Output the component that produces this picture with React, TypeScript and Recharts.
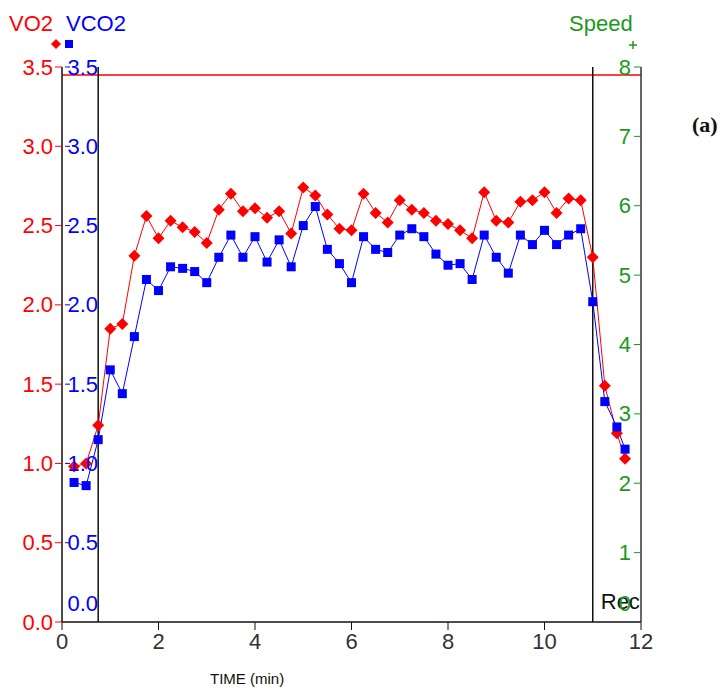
import React from 'react';
import { LineChart, Line, XAxis, YAxis, ReferenceLine } from 'recharts';

const times = [0.25, 0.5, 0.75, 1, 1.25, 1.5, 1.75, 2, 2.25, 2.5, 2.75, 3, 3.25, 3.5, 3.75, 4, 4.25, 4.5, 4.75, 5, 5.25, 5.5, 5.75, 6, 6.25, 6.5, 6.75, 7, 7.25, 7.5, 7.75, 8, 8.25, 8.5, 8.75, 9, 9.25, 9.5, 9.75, 10, 10.25, 10.5, 10.75, 11, 11.25, 11.5, 11.67];
const vo2 = [0.98, 1.0, 1.24, 1.85, 1.88, 2.31, 2.56, 2.42, 2.53, 2.49, 2.46, 2.39, 2.6, 2.7, 2.59, 2.61, 2.55, 2.59, 2.45, 2.74, 2.69, 2.57, 2.48, 2.47, 2.7, 2.58, 2.52, 2.66, 2.6, 2.58, 2.53, 2.51, 2.47, 2.42, 2.71, 2.53, 2.52, 2.65, 2.66, 2.71, 2.58, 2.67, 2.66, 2.3, 1.49, 1.19, 1.03];
const vco2 = [0.88, 0.86, 1.15, 1.59, 1.44, 1.8, 2.16, 2.09, 2.24, 2.23, 2.21, 2.14, 2.3, 2.44, 2.3, 2.43, 2.27, 2.41, 2.24, 2.5, 2.62, 2.35, 2.26, 2.14, 2.43, 2.35, 2.33, 2.44, 2.48, 2.43, 2.32, 2.25, 2.26, 2.16, 2.44, 2.3, 2.2, 2.44, 2.38, 2.47, 2.38, 2.44, 2.48, 2.02, 1.39, 1.23, 1.09];

const leftTicks = [0, 0.5, 1, 1.5, 2, 2.5, 3, 3.5];
const rightTicks = [0, 1, 2, 3, 4, 5, 6, 7, 8];
const xTicks = [0, 2, 4, 6, 8, 10, 12];
const vo2Max = 3.45;
const phaseStart = 0.75;
const recStart = 11;

const data = times.map((t, i) => ({ t, vo2: vo2[i], vco2: vco2[i] }));

const RED = '#ff0000';
const BLUE = '#0000ff';
const GREEN = '#1b9a1b';
const FONT = '"Liberation Sans", Arial, sans-serif';
const PLOT_LEFT = 62;
const PLOT_RIGHT = 641;

const LeftTick = (props: any) => {
  const { y, payload } = props;
  const v = payload.value as number;
  const label = v.toFixed(1);
  const isZero = v === 0;
  return (
    <g>
      <text x={PLOT_LEFT - 9} y={y} textAnchor="end" dominantBaseline="central" fill={RED} fontSize={22} fontFamily={FONT}>{label}</text>
      <line x1={PLOT_LEFT - 7} x2={PLOT_LEFT} y1={y} y2={y} stroke={RED} strokeWidth={1} />
      {!isZero && <line x1={PLOT_LEFT + 3} x2={PLOT_LEFT + 8} y1={y} y2={y} stroke={BLUE} strokeWidth={1} />}
      <text x={PLOT_LEFT + 36} y={isZero ? y - 19 : y} textAnchor="end" dominantBaseline="central" fill={BLUE} fontSize={22} fontFamily={FONT}>{label}</text>
    </g>
  );
};

const RightTick = (props: any) => {
  const { y, payload } = props;
  const v = payload.value as number;
  const isZero = v === 0;
  return (
    <g>
      {!isZero && <line x1={PLOT_RIGHT - 7} x2={PLOT_RIGHT} y1={y} y2={y} stroke={GREEN} strokeWidth={1} />}
      <text x={PLOT_RIGHT - 10} y={isZero ? y - 19 : y} textAnchor="end" dominantBaseline="central" fill={GREEN} fontSize={22} fontFamily={FONT}>{String(v)}</text>
    </g>
  );
};

const Diamond = (props: any) => {
  const { cx, cy } = props;
  if (cx == null || cy == null) return null;
  return <polygon points={`${cx},${cy - 6} ${cx + 6},${cy} ${cx},${cy + 6} ${cx - 6},${cy}`} fill={RED} />;
};

const Square = (props: any) => {
  const { cx, cy } = props;
  if (cx == null || cy == null) return null;
  return <rect x={cx - 4.5} y={cy - 4.5} width={9} height={9} fill={BLUE} />;
};

const RecLabel = (props: any) => {
  const vb = props.viewBox || {};
  return (
    <text x={vb.x + 8} y={vb.y + vb.height - 21} dominantBaseline="central" fill="#111" fontSize={22} fontFamily={FONT}>Rec</text>
  );
};

export default function App() {
  return (
    <div style={{ position: 'relative', width: 725, height: 695, background: '#fff' }}>
      <style>{'body{margin:0;}'}</style>
      <LineChart width={725} height={695} data={data} margin={{ top: 67, right: 0, bottom: 0, left: 0 }}>
        <XAxis
          dataKey="t"
          type="number"
          domain={[0, 12]}
          ticks={xTicks}
          tickSize={8}
          tickMargin={3}
          height={73}
          stroke="#111"
          tick={{ fill: '#333', fontSize: 22, fontFamily: FONT }}
          axisLine={{ stroke: '#111', strokeWidth: 1.5 }}
        />
        <YAxis
          yAxisId="left"
          width={62}
          type="number"
          domain={[0, 3.5]}
          ticks={leftTicks}
          tickLine={false}
          tick={<LeftTick />}
          axisLine={{ stroke: '#111', strokeWidth: 1.5 }}
        />
        <YAxis
          yAxisId="right"
          orientation="right"
          width={84}
          type="number"
          domain={[0, 8]}
          allowDataOverflow
          ticks={rightTicks}
          interval={0}
          tickLine={false}
          tick={<RightTick />}
          axisLine={{ stroke: '#333', strokeWidth: 1.5 }}
        />
        <ReferenceLine yAxisId="left" y={vo2Max} stroke={RED} strokeWidth={1.5} />
        <ReferenceLine yAxisId="left" x={phaseStart} stroke="#111" strokeWidth={1.5} />
        <ReferenceLine yAxisId="left" x={recStart} stroke="#111" strokeWidth={1.5} label={<RecLabel />} />
        <Line yAxisId="left" dataKey="vo2" stroke={RED} strokeWidth={1} dot={<Diamond />} isAnimationActive={false} />
        <Line yAxisId="left" dataKey="vco2" stroke={BLUE} strokeWidth={1} dot={<Square />} isAnimationActive={false} />
      </LineChart>
      <svg width={725} height={695} style={{ position: 'absolute', left: 0, top: 0, pointerEvents: 'none' }}>
        <text x={9} y={31} fill={RED} fontSize={22} fontFamily={FONT}>VO2</text>
        <text x={66} y={31} fill={BLUE} fontSize={22} fontFamily={FONT}>VCO2</text>
        <polygon points="56,39 61,44 56,49 51,44" fill={RED} />
        <rect x={65} y={40} width={8} height={8} fill={BLUE} />
        <text x={569} y={31} fill={GREEN} fontSize={22} fontFamily={FONT}>Speed</text>
        <line x1={629} x2={637} y1={45} y2={45} stroke={GREEN} strokeWidth={1.5} />
        <line x1={633} x2={633} y1={41} y2={49} stroke={GREEN} strokeWidth={1.5} />
        <text x={692} y={132} fill="#111" fontSize={22} fontWeight="bold" fontFamily='"Liberation Serif", "Times New Roman", serif'>(a)</text>
        <text x={210} y={684} fill="#111" fontSize={15} fontFamily={FONT}>TIME (min)</text>
      </svg>
    </div>
  );
}
